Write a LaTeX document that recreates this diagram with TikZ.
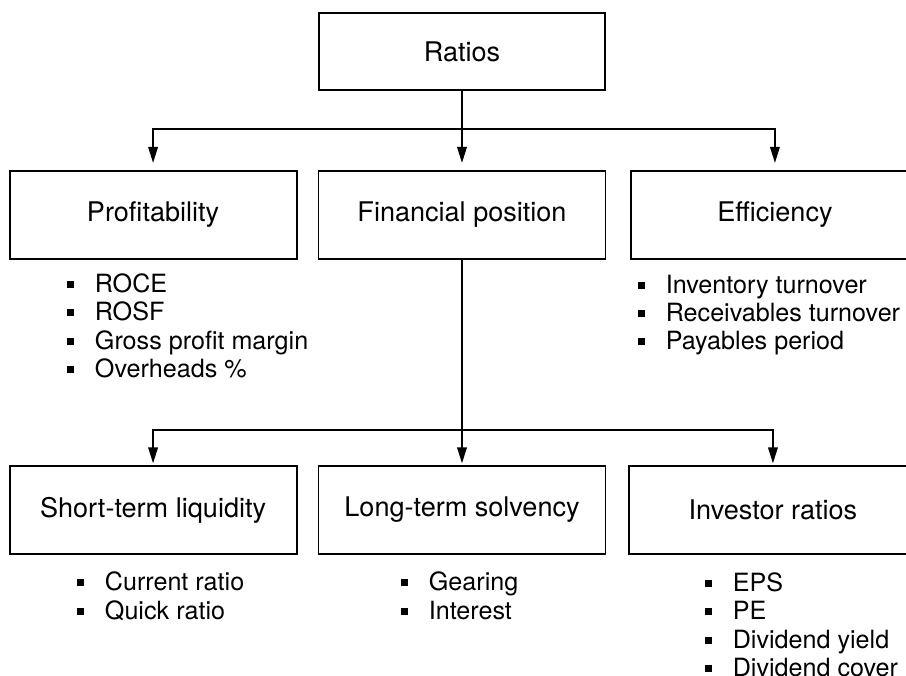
\documentclass[tikz,border=0pt]{standalone}
\usepackage{fontspec}
\setmainfont{TeX Gyre Heros}
\usetikzlibrary{arrows.meta,positioning}
\newcommand{\sqbul}{\rule[0.09cm]{0.14cm}{0.14cm}\hspace{0.42cm}}
\tikzset{
  heading/.style={rectangle,draw=black,line width=1.1pt,align=center,inner sep=0pt,
    minimum width=5.74cm,minimum height=1.76cm,font=\fontsize{15.4}{18}\selectfont},
  toplevel/.style={heading,minimum width=5.72cm,minimum height=1.54cm},
  itemlist/.style={align=left,inner sep=0pt,font=\fontsize{14.3}{16.1}\selectfont},
  flow/.style={-{Triangle[length=0.32cm,width=0.19cm]},line width=1.1pt,draw=black}
}

\begin{document}
\begin{tikzpicture}[node distance=1.58cm and 0.4cm]
  \useasboundingbox (0,0) rectangle (18.12,-13.5);
  \node[toplevel] (ratios) at (9.24,-1.03) {Ratios};
  \node[heading,below=of ratios] (finpos) {Financial position};
  \node[heading,left=0.4cm of finpos] (profit) {Profitability};
  \node[heading,right=0.48cm of finpos] (effic) {Efficiency};
  \node[heading,below=4.1cm of finpos] (longterm) {Long-term solvency};
  \node[heading,left=0.4cm of longterm] (shortterm) {Short-term liquidity};
  \node[heading,right=0.44cm of longterm] (investor) {Investor ratios};
  % ratios under each heading
  \node[itemlist,below right=0.27cm and 1.16cm of profit.south west] (profitlist)
    {\sqbul ROCE\\ \sqbul ROSF\\ \sqbul Gross profit margin\\ \sqbul Overheads \%};
  \node[itemlist,below right=0.29cm and 0.14cm of effic.south west] (efficlist)
    {\sqbul Inventory turnover\\ \sqbul Receivables turnover\\ \sqbul Payables period};
  \node[itemlist,below right=0.34cm and 1.36cm of shortterm.south west] (shortlist)
    {\sqbul Current ratio\\ \sqbul Quick ratio};
  \node[itemlist,below right=0.34cm and 1.66cm of longterm.south west] (longlist)
    {\sqbul Gearing\\ \sqbul Interest};
  \node[itemlist,below right=0.35cm and 1.52cm of investor.south west] (investorlist)
    {\sqbul EPS\\ \sqbul PE\\ \sqbul Dividend yield\\ \sqbul Dividend cover};
  % connectors
  \draw[flow,shorten >=0.14cm] (ratios) -- (finpos);
  \draw[flow,shorten >=0.14cm] (ratios.south) -- ++(0,-0.76) -| (profit.north);
  \draw[flow,shorten >=0.14cm] (ratios.south) -- ++(0,-0.76) -| (effic.north);
  \draw[flow,shorten >=0.03cm] (finpos) -- (longterm);
  \draw[flow,shorten >=0.03cm] (finpos.south) -- ++(0,-3.4) -| (shortterm.north);
  \draw[flow,shorten >=0.03cm] (finpos.south) -- ++(0,-3.4) -| (investor.north);
\end{tikzpicture}
\end{document}
